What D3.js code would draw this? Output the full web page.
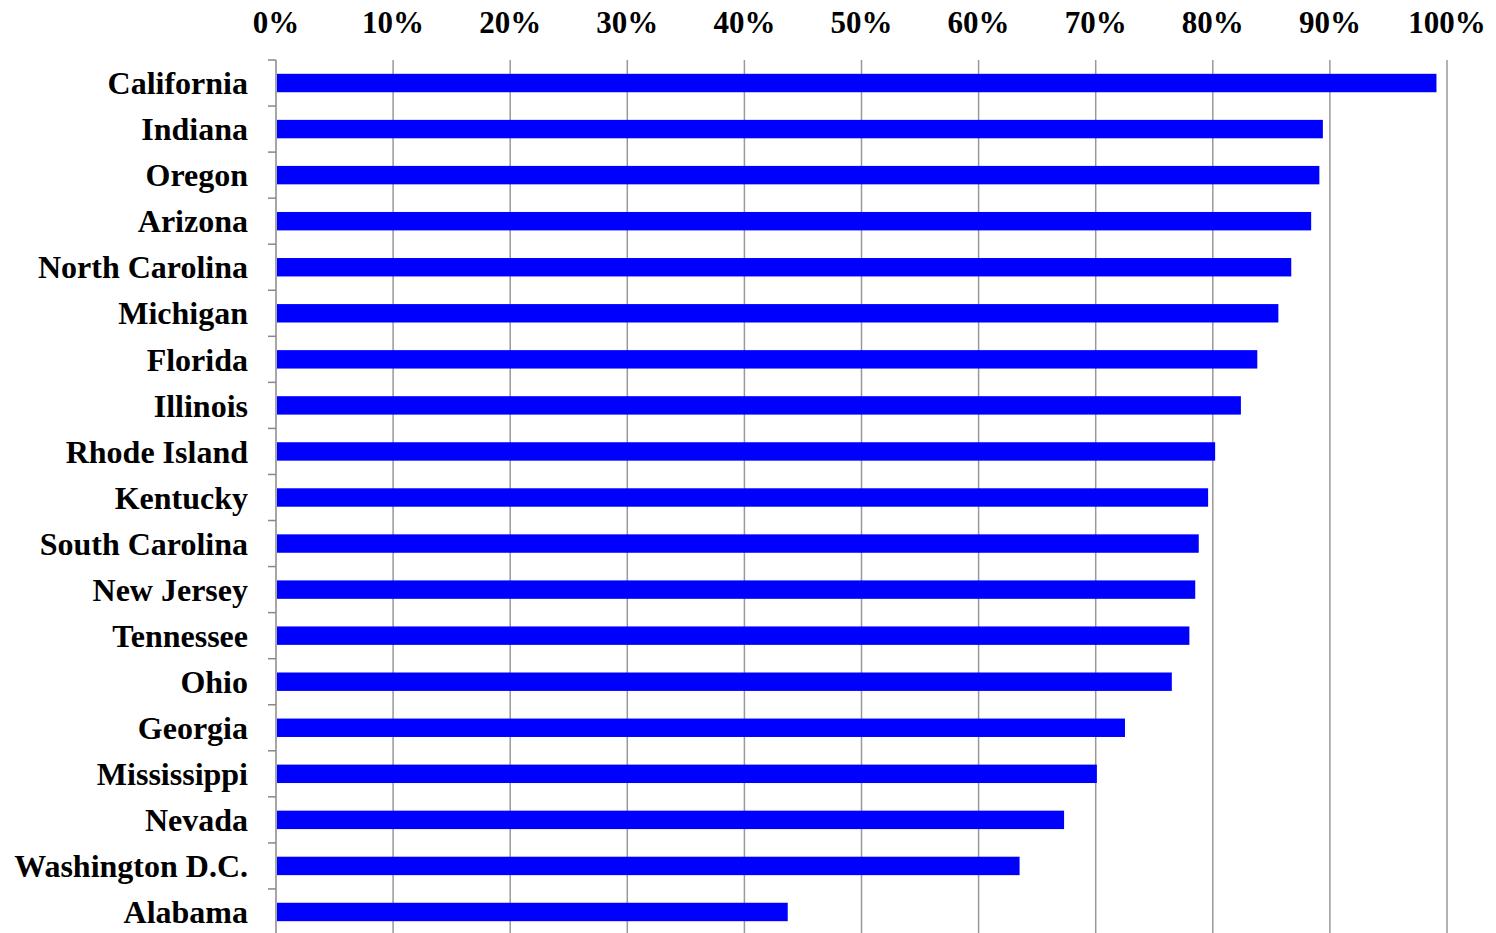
<!DOCTYPE html>
<html><head><meta charset="utf-8">
<script src="https://cdn.jsdelivr.net/npm/d3@7"></script>
<style>body{margin:0;background:#fff}</style>
</head><body>
<script>
var states = ["California","Indiana","Oregon","Arizona","North Carolina","Michigan","Florida","Illinois","Rhode Island","Kentucky","South Carolina","New Jersey","Tennessee","Ohio","Georgia","Mississippi","Nevada","Washington D.C.","Alabama"];
var values = [0.991,0.894,0.891,0.884,0.867,0.856,0.838,0.824,0.802,0.796,0.788,0.785,0.780,0.765,0.725,0.701,0.673,0.635,0.437];
var ticks = [0,0.1,0.2,0.3,0.4,0.5,0.6,0.7,0.8,0.9,1.0];

var svg = d3.select("body").append("svg").attr("width",1496).attr("height",933);
var x = d3.scaleLinear().domain([0,1]).range([276,1447]);
var y = d3.scaleBand().domain(states).range([60,935]).paddingInner(0.6).paddingOuter(0.3);
var font = "'Liberation Serif','Times New Roman',serif";

svg.selectAll("line.grid").data(ticks).enter().append("line")
    .attr("x1",function(d){return x(d);}).attr("x2",function(d){return x(d);})
    .attr("y1",60).attr("y2",933)
    .attr("stroke",function(d){return d===0?"#888":"#999";}).attr("stroke-width",1.5);

svg.selectAll("rect").data(states).enter().append("rect")
    .attr("x",x(0)+1).attr("y",function(d){return y(d);})
    .attr("width",function(d,i){return x(values[i])-x(0)-1;})
    .attr("height",y.bandwidth()).attr("fill","#0000ff");

// category boundary ticks
var bounds = d3.range(states.length+1).map(function(i){return 60 + i*875/states.length;});
svg.selectAll("line.ct").data(bounds).enter().append("line")
    .attr("x1",268).attr("x2",276).attr("y1",function(d){return d;}).attr("y2",function(d){return d;})
    .attr("stroke","#888").attr("stroke-width",1.5);

svg.selectAll("text.st").data(states).enter().append("text")
    .attr("x",248).attr("y",function(d){return y(d)+y.bandwidth()/2;})
    .attr("dy","0.35em").attr("text-anchor","end")
    .style("font-family",font).style("font-weight","bold").style("font-size","32px")
    .text(function(d){return d;});

svg.selectAll("text.tk").data(ticks).enter().append("text")
    .attr("x",function(d){return x(d);}).attr("y",33).attr("text-anchor","middle")
    .style("font-family",font).style("font-weight","bold").style("font-size","31px")
    .text(function(d){return d3.format(".0%")(d);});
</script>
</body></html>
